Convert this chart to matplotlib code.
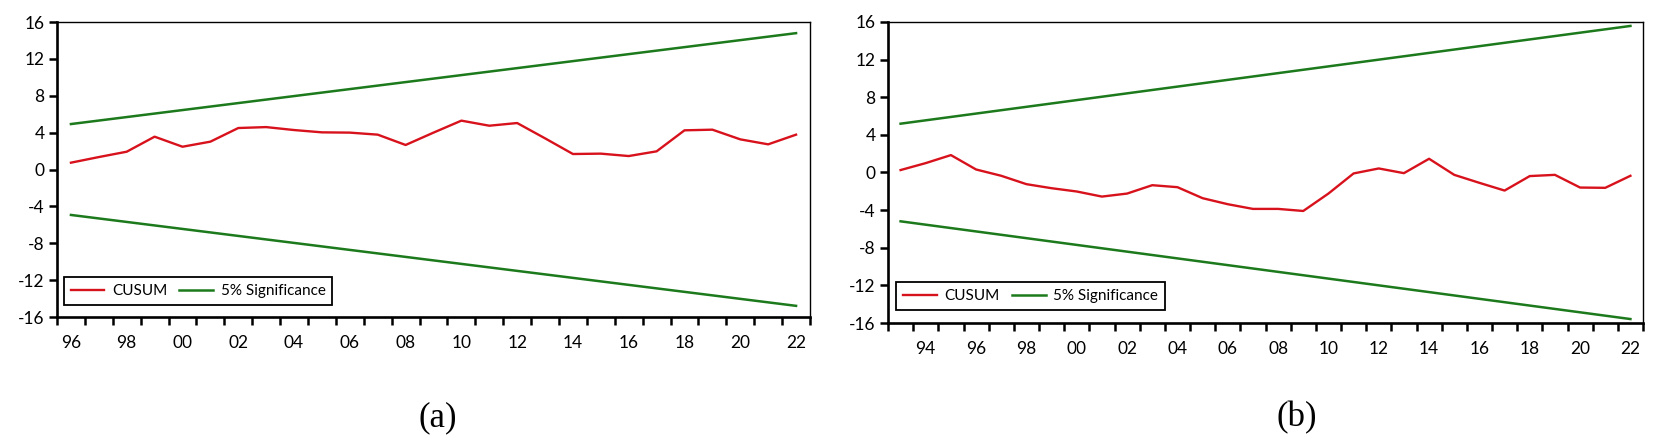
"""Gráficos CUSUM (a) e (b) com bandas de 5% de significância."""
import matplotlib
matplotlib.use("Agg")
import matplotlib.pyplot as plt

# painel (a): 1996-2022
anos_a = list(range(1996, 2023))
cusum_a = [0.74, 1.35, 1.93, 3.56, 2.47, 3.02, 4.50, 4.60, 4.28, 4.03, 4.00, 3.78, 2.66,
           4.00, 5.30, 4.75, 5.04, 3.38, 1.68, 1.72, 1.46, 1.97, 4.25, 4.32, 3.27, 2.73, 3.78]
banda_anos_a = [1996, 2022]
banda_sup_a = [4.93, 14.79]
banda_inf_a = [-4.93, -14.79]
rotulos_a = ["96", "98", "00", "02", "04", "06", "08", "10", "12", "14", "16", "18", "20", "22"]

# painel (b): 1993-2022
anos_b = list(range(1993, 2023))
cusum_b = [0.26, 1.00, 1.85, 0.32, -0.35, -1.24, -1.67, -2.02, -2.56, -2.24, -1.35, -1.56,
           -2.73, -3.37, -3.87, -3.87, -4.09, -2.24, -0.10, 0.43, -0.07, 1.46, -0.25, -1.10,
           -1.92, -0.38, -0.25, -1.60, -1.63, -0.35]
banda_anos_b = [1993, 2022]
banda_sup_b = [5.19, 15.58]
banda_inf_b = [-5.19, -15.58]
rotulos_b = ["94", "96", "98", "00", "02", "04", "06", "08", "10", "12", "14", "16", "18", "20", "22"]

yticks = [-16, -12, -8, -4, 0, 4, 8, 12, 16]

VERMELHO = "#d8121c"
VERDE = "#1c7a1c"

plt.rcParams["axes.unicode_minus"] = False
plt.rcParams["font.family"] = ["Lato", "DejaVu Sans"]

fig = plt.figure(figsize=(16.56, 4.44), dpi=100)


def painel(rect, anos, cusum, b_anos, b_sup, b_inf, rotulos, leg_pos, letra, letra_x):
    ax = fig.add_axes(rect)
    ax.plot(anos, cusum, color=VERMELHO, lw=1.7, label="CUSUM")
    ax.plot(b_anos, b_sup, color=VERDE, lw=1.8, label="5% Significance")
    ax.plot(b_anos, b_inf, color=VERDE, lw=1.8)
    ax.set_xlim(anos[0] - 0.5, anos[-1] + 0.5)
    ax.set_ylim(-16, 16)
    ax.set_yticks(yticks)
    ax.set_yticklabels([str(v) for v in yticks])
    # marcas nas fronteiras dos anos, rótulos no centro de anos pares
    ax.set_xticks([a - 0.5 for a in anos] + [anos[-1] + 0.5])
    ax.set_xticklabels([])
    ax.set_xticks([int(("19" if int(r) > 50 else "20") + r) for r in rotulos], minor=True)
    ax.set_xticklabels(rotulos, minor=True)
    ax.tick_params(axis="both", which="major", direction="out", length=6, width=1.8,
                   labelsize=12.5, color="black")
    ax.tick_params(axis="y", pad=3)
    ax.tick_params(axis="x", which="minor", length=0, pad=13, labelsize=12.5)
    for lado in ("left", "bottom"):
        ax.spines[lado].set_linewidth(1.9)
    for lado in ("top", "right"):
        ax.spines[lado].set_linewidth(1.0)
    leg = ax.legend(loc="lower left", bbox_to_anchor=leg_pos, borderaxespad=0, ncol=2,
                    fontsize=11, handlelength=2.2, handletextpad=0.5, columnspacing=0.8,
                    fancybox=False, framealpha=1, edgecolor="black", borderpad=0.45)
    leg.get_frame().set_linewidth(1.3)
    fig.text(letra_x / 1656, 1 - 418 / 444, letra, family="Liberation Serif",
             fontsize=25, ha="center", va="center")
    return ax


painel([57 / 1656, 1 - 317 / 444, 753 / 1656, 295 / 444], anos_a, cusum_a,
       banda_anos_a, banda_sup_a, banda_inf_a, rotulos_a, (0.009, 0.04), "(a)", 438)
painel([888 / 1656, 1 - 323 / 444, 755 / 1656, 301 / 444], anos_b, cusum_b,
       banda_anos_b, banda_sup_b, banda_inf_b, rotulos_b, (0.011, 0.043), "(b)", 1297)

fig.savefig("out.png", dpi=100)
